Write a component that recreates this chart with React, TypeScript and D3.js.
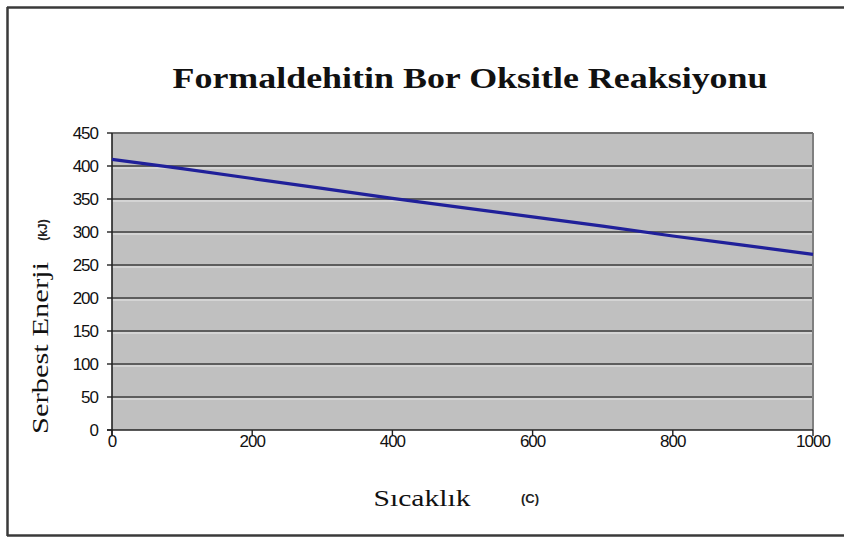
import React from "react";
import * as d3 from "d3";

const temperatures = [0, 100, 200, 300, 400, 500, 600, 700, 800, 900, 1000];
const energies = [410, 396, 381, 366, 351, 337, 323, 309, 294, 280, 266];
const xTicks = [0, 200, 400, 600, 800, 1000];
const yTicks = [0, 50, 100, 150, 200, 250, 300, 350, 400, 450];
const titleText = "Formaldehitin Bor Oksitle Reaksiyonu";
const xLabel = "Sıcaklık";
const xUnit = "(C)";
const yLabel = "Serbest Enerji";
const yUnit = "(kJ)";

export default function App() {
  const W = 844, H = 538;
  const left = 112, right = 813, top = 133, bottom = 430;
  const x = d3.scaleLinear().domain([0, 1000]).range([left, right]);
  const y = d3.scaleLinear().domain([0, 450]).range([bottom, top]);
  const line = d3
    .line<number>()
    .x((_, i) => x(temperatures[i]))
    .y((d) => y(d));
  const tickFont = "'Liberation Sans', Arial, sans-serif";
  const serif = "'Liberation Serif', 'Times New Roman', serif";
  return (
    <svg
      width={W}
      height={H}
      style={{ position: "absolute", left: 0, top: 0, background: "#fff" }}
    >
      <rect x={0} y={0} width={W} height={H} fill="#fff" />
      {/* outer frame */}
      <line x1={7} x2={W} y1={7.5} y2={7.5} stroke="#3a3a3a" strokeWidth={2.5} />
      <line x1={7.5} x2={7.5} y1={7} y2={536} stroke="#3a3a3a" strokeWidth={2.5} />
      <line x1={7} x2={W} y1={535.5} y2={535.5} stroke="#3a3a3a" strokeWidth={2.5} />
      {/* title */}
      <text
        x={470}
        y={88}
        textAnchor="middle"
        fontFamily={serif}
        fontWeight="bold"
        fontSize={30}
        textLength={595}
        lengthAdjust="spacingAndGlyphs"
        fill="#111"
      >
        {titleText}
      </text>
      {/* plot area */}
      <rect x={left} y={top} width={right - left} height={bottom - top} fill="#c0c0c0" />
      {yTicks.map((t) =>
        t === 0 ? null : (
          <g key={"g" + t}>
            <line x1={left} x2={right} y1={y(t)} y2={y(t)} stroke="#3c3c3c" strokeWidth={1.6} />
            {t !== 450 && (
              <line x1={left} x2={right} y1={y(t) + 2} y2={y(t) + 2} stroke="#e8e8e8" strokeWidth={1} />
            )}
          </g>
        )
      )}
      {/* plot border */}
      <line x1={right} x2={right} y1={top} y2={bottom} stroke="#808080" strokeWidth={2} />
      <line x1={left} x2={right} y1={top} y2={top} stroke="#707070" strokeWidth={1.5} />
      {/* axes */}
      <line x1={left} x2={left} y1={top} y2={bottom + 5} stroke="#222" strokeWidth={1.6} />
      <line x1={left - 5} x2={right} y1={bottom} y2={bottom} stroke="#222" strokeWidth={1.6} />
      {yTicks.map((t) => (
        <g key={"yt" + t}>
          <line x1={left - 5} x2={left} y1={y(t)} y2={y(t)} stroke="#222" strokeWidth={1.4} />
          <text
            x={left - 14}
            y={y(t)}
            dy="0.36em"
            textAnchor="end"
            fontFamily={tickFont}
            fontSize={17}
            letterSpacing={-1}
            fill="#111"
          >
            {t}
          </text>
        </g>
      ))}
      {xTicks.map((t) => (
        <g key={"xt" + t}>
          <line x1={x(t)} x2={x(t)} y1={bottom} y2={bottom + 6} stroke="#222" strokeWidth={1.4} />
          <text
            x={x(t)}
            y={447}
            textAnchor="middle"
            fontFamily={tickFont}
            fontSize={17}
            letterSpacing={-1}
            fill="#111"
          >
            {t}
          </text>
        </g>
      ))}
      {/* data line */}
      <path d={line(energies) || ""} fill="none" stroke="#20209a" strokeWidth={3.2} />
      {/* axis labels */}
      <text x={422} y={506} textAnchor="middle" fontFamily={serif} fontSize={23} textLength={97} lengthAdjust="spacingAndGlyphs" fill="#111">
        {xLabel}
      </text>
      <text x={530} y={503} textAnchor="middle" fontFamily={tickFont} fontWeight="bold" fontSize={13} fill="#222">
        {xUnit}
      </text>
      <text
        transform={`translate(48,348) rotate(-90)`}
        textAnchor="middle"
        fontFamily={serif}
        fontSize={24}
        textLength={172}
        lengthAdjust="spacingAndGlyphs"
        fill="#111"
      >
        {yLabel}
      </text>
      <text
        transform={`translate(47,230) rotate(-90)`}
        textAnchor="middle"
        fontFamily={tickFont}
        fontWeight="bold"
        fontSize={12}
        fill="#222"
      >
        {yUnit}
      </text>
    </svg>
  );
}
